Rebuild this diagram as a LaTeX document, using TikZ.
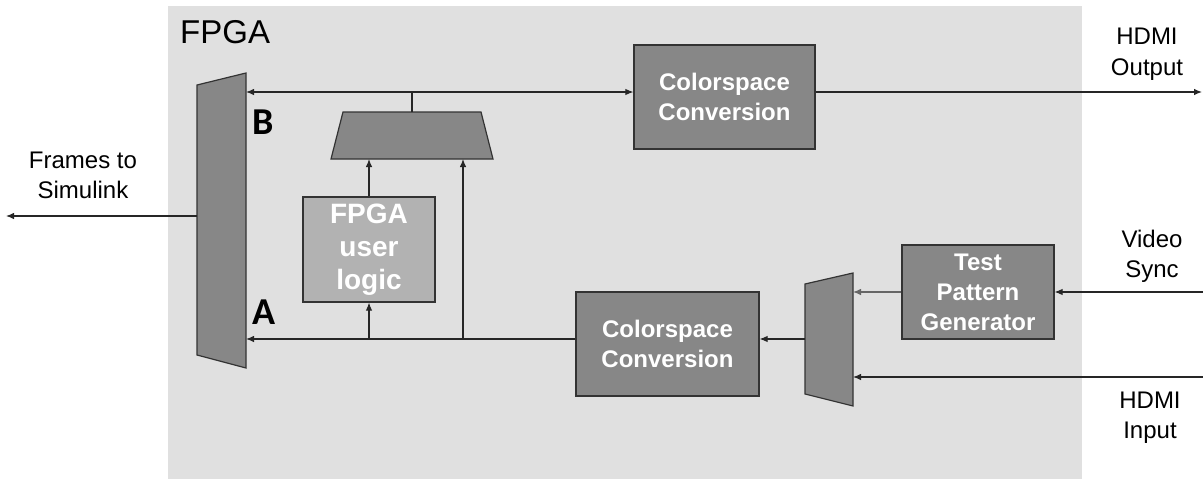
\documentclass[tikz,border=0pt]{standalone}
\usepackage{fontspec}
\setmainfont{Liberation Sans}
\newfontfamily\calib{Carlito}
\usetikzlibrary{arrows.meta}
\definecolor{bggray}{HTML}{E0E0E0}
\definecolor{boxgray}{HTML}{878787}
\definecolor{lightbox}{HTML}{B2B2B2}
\definecolor{edgecol}{HTML}{333333}
\begin{document}
\begin{tikzpicture}[x=1pt,y=-1pt,
  blk/.style={draw=edgecol, line width=1.2pt, fill=boxgray, text=white,
    font=\bfseries\fontsize{24}{30}\selectfont, align=center, inner sep=0pt},
  conn/.style={draw=black!85, line width=1.1pt},
  arr/.style={conn, -{Latex[length=8pt,width=6.5pt]}},
  darr/.style={conn, {Latex[length=8pt,width=6.5pt]}-{Latex[length=8pt,width=6.5pt]}},
  lbl/.style={font=\fontsize{24}{30}\selectfont, anchor=base, inner sep=0pt},
  mux/.style={draw=edgecol, line width=1.2pt, fill=boxgray},
  ab/.style={anchor=base west, inner sep=0pt, font=\calib\bfseries\fontsize{38}{40}\selectfont}]
\useasboundingbox (0,0) rectangle (1203,479);
\fill[bggray] (168,6) rectangle (1082,479);

% blocks
\node[blk, minimum width=181pt, minimum height=104pt] (cs1) at (724.5,97) {Colorspace\\Conversion};
\node[blk, minimum width=183pt, minimum height=104pt] (cs2) at (667.5,344) {Colorspace\\Conversion};
\node[blk, minimum width=152pt, minimum height=94pt] (tpg) at (978,292) {Test\\Pattern\\Generator};
\node[blk, fill=lightbox, minimum width=132pt, minimum height=105pt,
  font=\bfseries\fontsize{28}{33}\selectfont] (ul) at (369,249.5) {FPGA\\user\\logic};

% multiplexers
\draw[mux] (197,85) -- (246,73) -- (246,368) -- (197,355) -- cycle;
\coordinate (lmB) at (246,92);
\coordinate (lmA) at (246,339);
\coordinate (lmL) at (197,216);
\draw[mux] (343,112) -- (481,112) -- (493,159) -- (331,159) -- cycle;
\coordinate (tmT) at (412,112);
\coordinate (tmL) at (369,159);
\coordinate (tmR) at (463,159);
\draw[mux] (805,284) -- (853,273) -- (853,406) -- (805,394) -- cycle;
\coordinate (rmO) at (805,339);
\coordinate (rmP) at (853,292);
\coordinate (rmH) at (853,377);

% connectors
\draw[darr] (lmB) -- (lmB -| cs1.west);
\coordinate (jB) at (412,92);
\draw[conn] (jB) -- (tmT);
\coordinate (outEnd) at (1202,92);
\draw[arr] (cs1.east |- outEnd) -- (outEnd);
\coordinate (simEnd) at (6,216);
\draw[arr] (lmL) -- (simEnd);
\draw[arr] (cs2.west |- lmA) -- (lmA);
\coordinate (jA1) at (369,339);
\coordinate (jA2) at (463,339);
\draw[arr] (jA1) -- (ul.south);
\draw[arr] (jA2) -- (tmR);
\draw[arr] (ul.north) -- (tmL);
\draw[arr] (rmO) -- (cs2.east |- rmO);
\draw[arr, draw=black!60] (tpg.west |- rmP) -- (rmP);
\coordinate (vsIn) at (1203,292);
\draw[arr] (vsIn) -- (tpg.east);
\coordinate (hdIn) at (1203,377);
\draw[arr] (hdIn) -- (rmH);

% labels
\node[anchor=base west, inner sep=0pt, font=\fontsize{33}{36}\selectfont] (title) at (180,43) {FPGA};
\node[ab] (labB) at (252,134) {B};
\node[ab] (labA) at (252,324) {A};
\node[lbl] (ho1) at (1147,45) {HDMI};
\node[lbl] (ho2) at (1147,75) {Output};
\node[lbl] (vs1) at (1152,247) {Video};
\node[lbl] (vs2) at (1152,277) {Sync};
\node[lbl] (hi1) at (1150,408) {HDMI};
\node[lbl] (hi2) at (1150,438) {Input};
\node[lbl] (fs1) at (83,168) {Frames to};
\node[lbl] (fs2) at (83,198) {Simulink};
\end{tikzpicture}
\end{document}
